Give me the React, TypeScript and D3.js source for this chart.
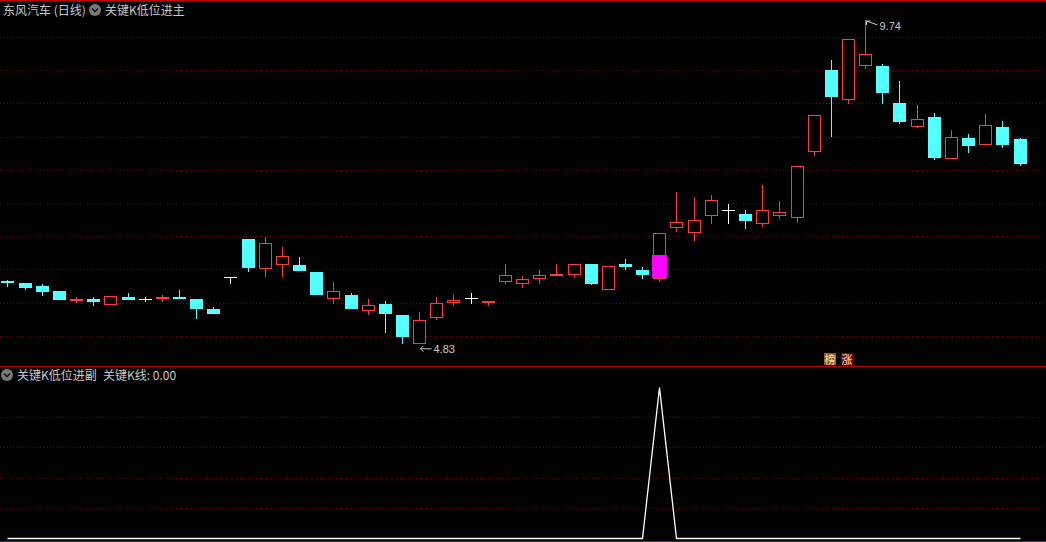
import React from "react";
import * as d3 from "d3";

const opens = [5.77,5.74,5.70,5.62,5.49,5.50,5.43,5.54,5.51,5.52,5.54,5.50,5.35,5.83,6.41,5.97,6.03,6.02,5.92,5.52,5.57,5.34,5.42,5.26,4.83,5.23,5.45,5.52,5.46,5.78,5.74,5.82,5.87,5.88,6.03,5.65,6.03,5.95,5.82,6.60,6.52,6.78,6.85,6.79,6.66,6.78,6.75,7.75,8.98,8.54,9.05,9.04,8.48,8.13,8.27,7.65,7.95,7.86,8.11,7.93];
const closes = [5.76,5.69,5.62,5.50,5.51,5.47,5.55,5.50,5.51,5.54,5.53,5.37,5.29,5.83,5.99,6.35,6.15,5.94,5.58,5.62,5.37,5.41,5.29,4.94,5.18,5.44,5.49,5.52,5.48,5.86,5.81,5.86,5.89,6.04,5.75,6.01,6.00,5.89,6.50,6.67,6.70,7.01,6.85,6.70,6.85,6.82,7.52,8.29,8.58,9.45,9.22,8.65,8.21,8.23,7.66,7.97,7.84,8.15,7.86,7.57];
const highs = [5.79,5.74,5.73,5.62,5.54,5.53,5.55,5.59,5.54,5.57,5.64,5.50,5.38,5.83,6.41,6.45,6.29,6.14,5.92,5.76,5.59,5.50,5.47,5.26,5.30,5.54,5.57,5.59,5.48,6.03,5.85,5.94,6.03,6.04,6.03,6.01,6.11,5.99,6.50,7.13,7.05,7.08,6.94,6.85,7.23,6.99,7.52,8.29,9.13,9.45,9.74,9.07,8.81,8.45,8.33,8.07,8.01,8.31,8.20,7.95];
const lows = [5.70,5.66,5.56,5.50,5.46,5.41,5.43,5.50,5.47,5.47,5.52,5.21,5.29,5.75,5.93,5.85,5.85,5.94,5.58,5.44,5.37,5.28,5.00,4.84,4.83,5.20,5.41,5.44,5.41,5.75,5.69,5.75,5.87,5.84,5.73,5.65,5.96,5.82,5.78,6.54,6.40,6.66,6.66,6.58,6.61,6.73,6.67,7.69,7.98,8.48,9.01,8.48,8.18,8.12,7.63,7.65,7.74,7.86,7.81,7.54];
const signal = [0,0,0,0,0,0,0,0,0,0,0,0,0,0,0,0,0,0,0,0,0,0,0,0,0,0,0,0,0,0,0,0,0,0,0,0,0,0,1,0,0,0,0,0,0,0,0,0,0,0,0,0,0,0,0,0,0,0,0,0];
const highlightIndex = [38];
const highlightFrom = [5.82];
const highlightTo = [6.17];
const subGridValues = [0.2, 0.4, 0.6, 0.8];
const mainTitle = "东风汽车 (日线)";
const mainIndicator = "关键K低位进主";
const subIndicator = "关键K低位进副";
const subValueLabel = "关键K线: 0.00";
const badges = ["榜", "涨"];

const W = 1046;
const H = 542;
const UP = "#ff3c3c";
const DOWN = "#54ffff";
const DOJI = "#ffffff";
const GRID = "#7a0000";
const TXT = "#c8c8c8";
const FONT = "'Noto Sans CJK SC', 'Liberation Sans', sans-serif";

export default function App() {
  const n = opens.length;
  const x = d3.scaleBand<number>().domain(d3.range(n)).range([-1.1, 1028.1]).paddingInner(0.24).paddingOuter(0.12);
  const cx = (i: number) => Math.round((x(i) as number) + x.bandwidth() / 2) + 0.5;
  const bw = 12;
  const yMin = d3.min(lows) as number;
  const yMax = d3.max(highs) as number;
  const y = d3.scaleLinear().domain([yMin, yMax]).range([343.3, 20]);
  const ys = d3.scaleLinear().domain([0, 1]).range([538, 387]);
  const mainGrid = d3.range(10).map((k) => 37 + k * 33.2);

  const iMax = highs.indexOf(yMax);
  const iMin = lows.indexOf(yMin);

  const line = d3.line<number>().x((_, i) => cx(i)).y((v) => Math.round(ys(v)) + 0.5);

  return (
    <svg width={W} height={H} style={{ position: "absolute", left: 0, top: 0, background: "#000" }} fontFamily={FONT}>
      <rect x={0} y={0} width={W} height={H} fill="#000" />
      <line x1={0} x2={W} y1={0.5} y2={0.5} stroke="#c00000" strokeWidth={1} />
      {mainGrid.map((gy, k) => (
        <line key={k} x1={0} x2={W} y1={Math.round(gy) + 0.5} y2={Math.round(gy) + 0.5} stroke={GRID} strokeWidth={1} strokeDasharray="1 2.33" shapeRendering="crispEdges" />
      ))}
      <text x={3} y={15} fontSize={12} fill={TXT}>{mainTitle}</text>
      <circle cx={95} cy={10} r={6} fill="#7a7a7a" />
      <path d="M92,8.5 L95,11.5 L98,8.5" stroke="#1a1a1a" strokeWidth={1.6} fill="none" />
      <text x={105} y={15} fontSize={12} fill={TXT}>{mainIndicator}</text>

      {opens.map((o, i) => {
        const c = closes[i];
        const col = c > o ? UP : c < o ? DOWN : DOJI;
        const xc = cx(i);
        const top = Math.round(y(Math.max(o, c)));
        const bot = Math.round(y(Math.min(o, c)));
        const hy = Math.round(y(highs[i]));
        const ly = Math.round(y(lows[i]));
        const left = xc - 0.5 - bw / 2;
        if (c > o) {
          return (
            <g key={i}>
              {hy < top && <line x1={xc} x2={xc} y1={hy} y2={top} stroke={col} />}
              {ly > bot && <line x1={xc} x2={xc} y1={bot + 1} y2={ly + 1} stroke={col} />}
              <rect x={left + 0.5} y={top + 0.5} width={bw} height={Math.max(bot - top, 1)} fill="#000" stroke={col} />
            </g>
          );
        }
        if (c < o) {
          return (
            <g key={i}>
              <line x1={xc} x2={xc} y1={hy} y2={ly + 1} stroke={col} />
              <rect x={left} y={top} width={bw + 1} height={Math.max(bot - top, 1) + 1} fill={col} />
            </g>
          );
        }
        return (
          <g key={i}>
            <line x1={xc} x2={xc} y1={hy} y2={ly + 1} stroke={col} />
            <line x1={left} x2={left + bw + 1} y1={top + 0.5} y2={top + 0.5} stroke={col} />
          </g>
        );
      })}

      {highlightIndex.map((hi, k) => {
        const xc = cx(hi);
        const t = Math.round(y(highlightTo[k]));
        const b = Math.round(y(highlightFrom[k]));
        return <rect key={k} x={xc - 7.5} y={t} width={15} height={b - t} fill="#ff00ff" />;
      })}

      <g stroke={TXT} fill="none" strokeWidth={1}>
        <line x1={cx(iMax) + 12} y1={y(yMax) + 5} x2={cx(iMax) + 1} y2={y(yMax) + 1} />
        <path d={`M${cx(iMax) + 1},${y(yMax) + 5} L${cx(iMax) + 1},${y(yMax) + 1} L${cx(iMax) + 5},${y(yMax) + 1}`} />
        <line x1={cx(iMin) + 12} y1={y(yMin) + 5.5} x2={cx(iMin) + 1} y2={y(yMin) + 5.5} />
        <path d={`M${cx(iMin) + 4},${y(yMin) + 2.5} L${cx(iMin) + 1},${y(yMin) + 5.5} L${cx(iMin) + 4},${y(yMin) + 8.5}`} />
      </g>
      <text x={cx(iMax) + 14} y={y(yMax) + 10} fontSize={11} fill={TXT} fontFamily="'Liberation Sans', sans-serif">{yMax.toFixed(2)}</text>
      <text x={cx(iMin) + 14} y={y(yMin) + 9.5} fontSize={11} fill={TXT} fontFamily="'Liberation Sans', sans-serif">{yMin.toFixed(2)}</text>

      <rect x={824} y={353} width={12} height={12} fill="#9a5a10" />
      <text x={830} y={363.5} fontSize={11} fill="#f4e0c0" textAnchor="middle">{badges[0]}</text>
      <rect x={841} y={353} width={12} height={12} fill="#7a0000" />
      <text x={847} y={363.5} fontSize={11} fill="#f4e0e0" textAnchor="middle">{badges[1]}</text>

      <line x1={0} x2={W} y1={366.5} y2={366.5} stroke="#b00000" strokeWidth={1} />

      <circle cx={7} cy={375} r={6} fill="#7a7a7a" />
      <path d="M4,373.5 L7,376.5 L10,373.5" stroke="#1a1a1a" strokeWidth={1.6} fill="none" />
      <text x={17} y={380} fontSize={12} fill={TXT}>{subIndicator}</text>
      <text x={103} y={380} fontSize={12} fill={TXT}>{subValueLabel}</text>

      {subGridValues.map((v, k) => (
        <line key={k} x1={0} x2={W} y1={Math.round(ys(v)) + 0.5} y2={Math.round(ys(v)) + 0.5} stroke={GRID} strokeWidth={1} strokeDasharray="1 2.33" shapeRendering="crispEdges" />
      ))}

      <path d={line(signal) as string} stroke="#ffffff" strokeWidth={1.3} fill="none" />

      <line x1={0} x2={W} y1={541.5} y2={541.5} stroke="#b00000" strokeWidth={1} />
    </svg>
  );
}
